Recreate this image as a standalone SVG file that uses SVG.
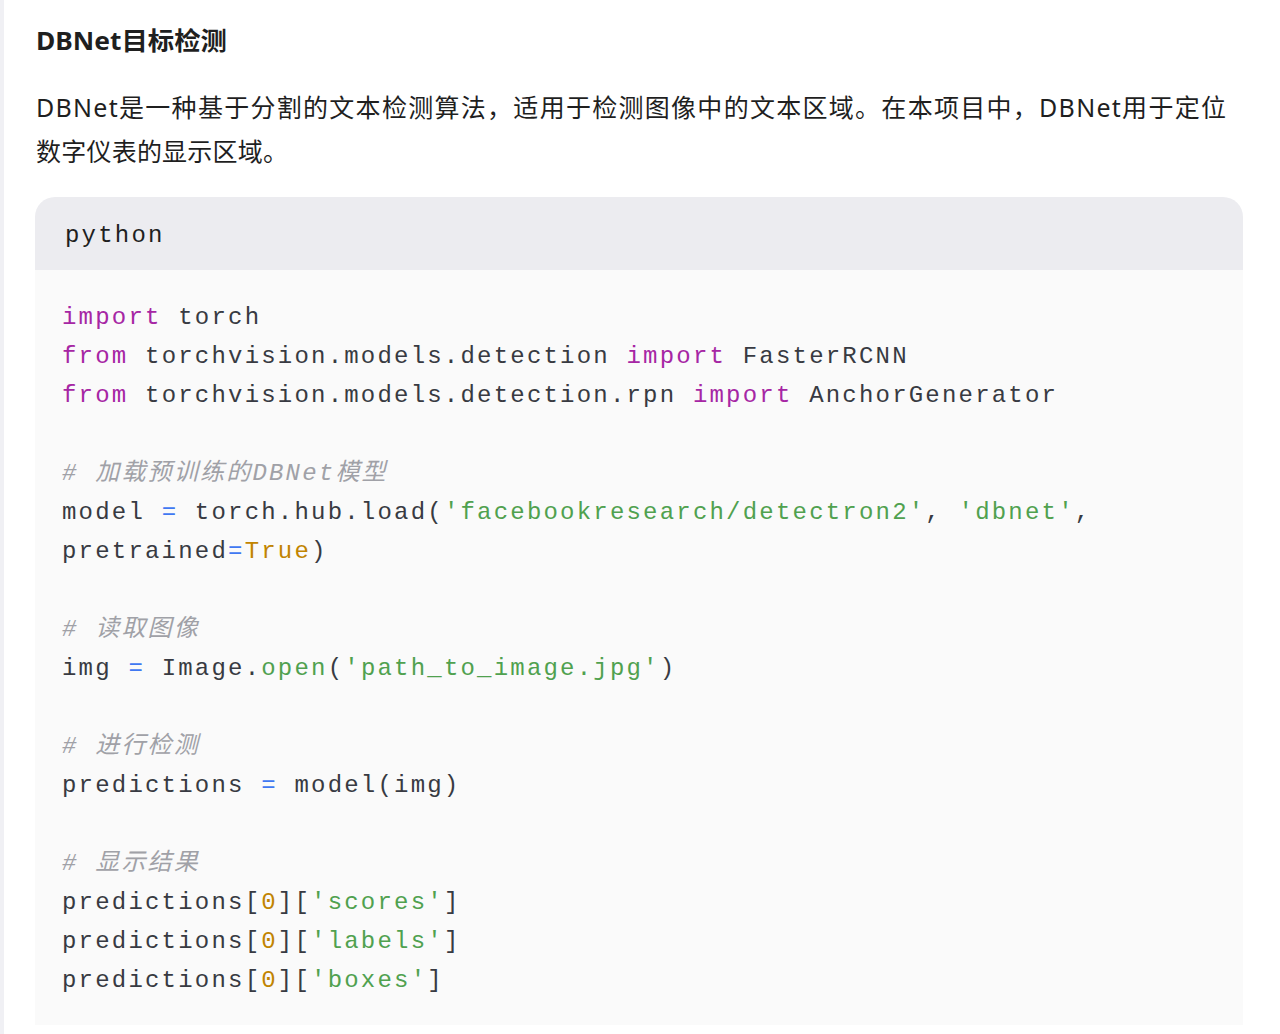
<svg xmlns="http://www.w3.org/2000/svg" width="1280" height="1034" viewBox="0 0 1280 1034">
<style>
.t{font-family:"Noto Sans","Noto Sans CJK SC",sans-serif;fill:#1f1f1f}
.c{font-family:"Liberation Mono","Noto Sans CJK SC",monospace;font-size:24px;letter-spacing:2.2px;fill:#383a42;white-space:pre}
.k{fill:#a626a4}.s{fill:#50a14f}.n{fill:#c18401}.o{fill:#4078f2}
.cm{fill:#a0a1a7;font-style:italic}
</style>
<rect width="1280" height="1034" fill="#fff"/>
<rect x="0" y="0" width="4" height="1034" fill="#f0f0f4"/>
<text class="t" x="36" y="50" font-size="25" font-weight="bold" textLength="191" lengthAdjust="spacingAndGlyphs">DBNet目标检测</text>
<text class="t" x="36" y="117" font-size="25" textLength="1190" lengthAdjust="spacing">DBNet是一种基于分割的文本检测算法，适用于检测图像中的文本区域。在本项目中，DBNet用于定位</text>
<text class="t" x="36" y="161" font-size="25" textLength="252" lengthAdjust="spacing">数字仪表的显示区域。</text>
<g id="codeblock">
<path d="M35 270 V217 a20 20 0 0 1 20 -20 H1223 a20 20 0 0 1 20 20 V270 Z" fill="#ececf0"/>
<rect x="35" y="270" width="1208" height="755" fill="#fafafa"/>
<text class="c" x="65" y="242" style="fill:#1f1f1f">python</text>
<g xml:space="preserve">
<text class="c" x="62" y="324"><tspan class="k">import</tspan> torch</text>
<text class="c" x="62" y="363"><tspan class="k">from</tspan> torchvision.models.detection <tspan class="k">import</tspan> FasterRCNN</text>
<text class="c" x="62" y="402"><tspan class="k">from</tspan> torchvision.models.detection.rpn <tspan class="k">import</tspan> AnchorGenerator</text>
<text class="c cm" x="62" y="480"># 加载预训练的DBNet模型</text>
<text class="c" x="62" y="519">model <tspan class="o">=</tspan> torch.hub.load(<tspan class="s">'facebookresearch/detectron2'</tspan>, <tspan class="s">'dbnet'</tspan>,</text>
<text class="c" x="62" y="558">pretrained<tspan class="o">=</tspan><tspan class="n">True</tspan>)</text>
<text class="c cm" x="62" y="636"># 读取图像</text>
<text class="c" x="62" y="675">img <tspan class="o">=</tspan> Image.<tspan class="s">open</tspan>(<tspan class="s">'path_to_image.jpg'</tspan>)</text>
<text class="c cm" x="62" y="753"># 进行检测</text>
<text class="c" x="62" y="792">predictions <tspan class="o">=</tspan> model(img)</text>
<text class="c cm" x="62" y="870"># 显示结果</text>
<text class="c" x="62" y="909">predictions[<tspan class="n">0</tspan>][<tspan class="s">'scores'</tspan>]</text>
<text class="c" x="62" y="948">predictions[<tspan class="n">0</tspan>][<tspan class="s">'labels'</tspan>]</text>
<text class="c" x="62" y="987">predictions[<tspan class="n">0</tspan>][<tspan class="s">'boxes'</tspan>]</text>
</g>
</g>
</svg>
